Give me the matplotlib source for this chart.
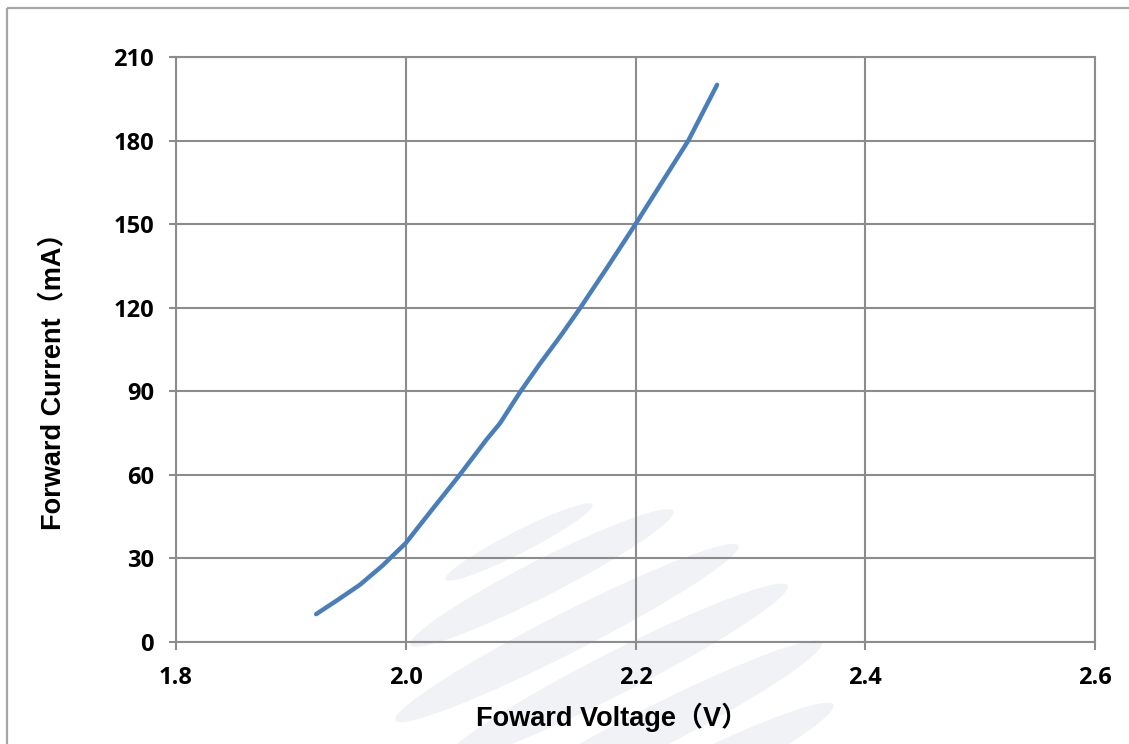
import matplotlib
matplotlib.use("Agg")
import matplotlib.pyplot as plt
from matplotlib.patches import Ellipse, Rectangle

# Data
voltage = [1.922, 1.94, 1.96, 1.98, 2.00, 2.02, 2.047, 2.07, 2.082, 2.10,
           2.117, 2.135, 2.152, 2.175, 2.20, 2.223, 2.246, 2.271]
current = [10, 14.9, 20.5, 27.5, 35.5, 46, 60, 72.5, 78.5, 90,
           100, 110, 120, 134.2, 150, 165, 180, 200]
x_ticks = [1.8, 2.0, 2.2, 2.4, 2.6]
x_tick_labels = ["1.8", "2.0", "2.2", "2.4", "2.6"]
y_ticks = [0, 30, 60, 90, 120, 150, 180, 210]
x_label = "Foward Voltage（V）"
y_label = "Forward Current（mA）"

W, H = 1129, 744
fig = plt.figure(figsize=(W / 100, H / 100), dpi=100)
fig.patch.set_facecolor("white")

# background overlay (pixel coordinates) for border and faint watermark
bg = fig.add_axes([0, 0, 1, 1], zorder=0)
bg.set_xlim(0, W)
bg.set_ylim(H, 0)
bg.axis("off")
bg.add_patch(Rectangle((7, 8), W + 20, H + 20, fill=False, edgecolor="#a6a6a6", linewidth=1.6))
wm = [((519, 542), 165, 22), ((542, 578), 295, 36), ((567, 633), 385, 40),
      ((616, 673), 385, 42), ((650, 730), 385, 42), ((662, 792), 385, 42)]
for (cx, cy), ln, wd in wm:
    bg.add_patch(Ellipse((cx, cy), ln, wd, angle=-27, facecolor="#f1f2f6", edgecolor="none"))

ax = fig.add_axes([176 / W, 1 - 642 / H, (1095 - 176) / W, (642 - 57) / H], zorder=1)
ax.patch.set_alpha(0)

grid_c = "#8c8c8c"
ax.plot(voltage, current, color="#4a7ebb", linewidth=3.2, solid_capstyle="round",
        solid_joinstyle="round", zorder=3)
ax.set_xlim(1.8, 2.6)
ax.set_ylim(0, 210)
ax.set_xticks(x_ticks)
ax.set_xticklabels(x_tick_labels)
ax.set_yticks(y_ticks)
ax.grid(True, color=grid_c, linewidth=1.5)
for s in ax.spines.values():
    s.set_color(grid_c)
    s.set_linewidth(1.5)
ax.tick_params(axis="x", direction="out", length=5.8, width=1.5, color=grid_c, pad=11.5)
ax.tick_params(axis="y", direction="out", length=5, width=1.5, color=grid_c, pad=11)
for lab in ax.get_xticklabels() + ax.get_yticklabels():
    lab.set_fontfamily(["Open Sans", "DejaVu Sans"])
    lab.set_fontweight("bold")
    lab.set_fontsize(17)

fam = ["Liberation Sans", "Noto Sans CJK SC", "DejaVu Sans"]
ax.set_xlabel(x_label, family=fam, fontweight="bold", fontsize=19.5)
ax.set_ylabel(y_label, family=fam, fontweight="bold", fontsize=19.5)
ax.xaxis.set_label_coords(0.475, -0.104)
ax.yaxis.set_label_coords(-0.1197, 0.457)

fig.savefig("out.png", dpi=100)
